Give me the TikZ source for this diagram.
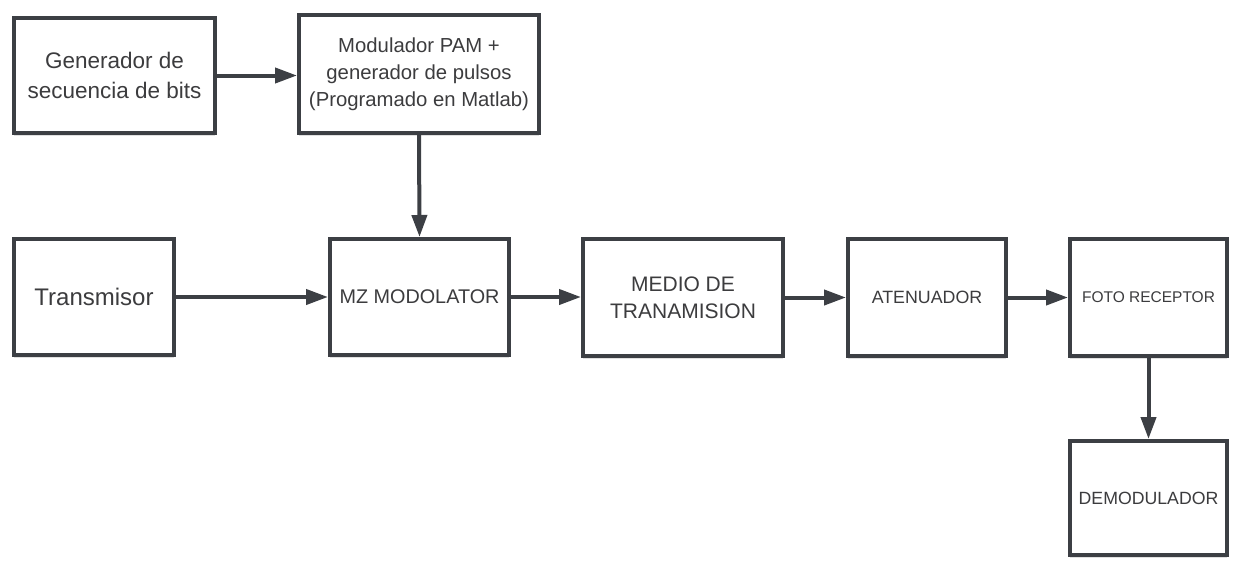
\documentclass[tikz,border=0pt]{standalone}
\usepackage{fontspec}
\setmainfont{Liberation Sans}
\usepackage{xcolor}
\definecolor{boxgray}{RGB}{60,63,68}
\definecolor{textgray}{RGB}{60,60,62}
\usetikzlibrary{arrows.meta,shadows}

\begin{document}
\begin{tikzpicture}[
  x=1pt, y=-1pt,
  blk/.style={rectangle, draw=boxgray, line width=4pt, fill=white, align=center,
              text=textgray, inner sep=2pt,
              drop shadow={shadow xshift=0pt, shadow yshift=-3pt, opacity=0.12, fill=black}},
  arr/.style={-{Triangle[length=22pt, width=15pt]}, line width=4pt, color=boxgray}
]
\useasboundingbox (0,0) rectangle (1233,560);

%% Top row
\node[blk, minimum width=201pt, minimum height=115pt,
      font=\fontsize{22.5}{30}\selectfont] (gen) at (114.5,75.5)
      {Generador de\\secuencia de bits};
\node[blk, minimum width=240pt, minimum height=118pt,
      font=\fontsize{20.3}{27}\selectfont] (pam) at (419,74)
      {Modulador PAM +\\generador de pulsos\\(Programado en Matlab)};

%% Main chain
\node[blk, minimum width=160pt, minimum height=116pt,
      font=\fontsize{24}{28}\selectfont] (tx) at (94,297) {Transmisor};
\node[blk, minimum width=179pt, minimum height=116pt,
      font=\fontsize{19.8}{24}\selectfont] (mz) at (419.5,297) {MZ MODOLATOR};
\node[blk, minimum width=200pt, minimum height=117pt,
      font=\fontsize{21}{27}\selectfont] (medio) at (683,297.5) {MEDIO DE\\TRANAMISION};
\node[blk, minimum width=158pt, minimum height=117pt,
      font=\fontsize{17.8}{22}\selectfont] (aten) at (927,297.5) {ATENUADOR};
\node[blk, minimum width=157pt, minimum height=117pt,
      font=\fontsize{15.5}{20}\selectfont] (foto) at (1148.5,297.5) {FOTO RECEPTOR};

%% Receiver output
\node[blk, minimum width=157pt, minimum height=114pt,
      font=\fontsize{17.7}{22}\selectfont] (demod) at (1148.5,498) {DEMODULADOR};

%% arrows
\draw[arr] (gen.east) -- (gen.east -| pam.west);
\draw[arr] (pam.south) -- (mz.north);
\draw[arr] (tx.east) -- (tx.east -| mz.west);
\draw[arr] (mz.east) -- (mz.east -| medio.west);
\draw[arr] (medio.east) -- (medio.east -| aten.west);
\draw[arr] (aten.east) -- (aten.east -| foto.west);
\draw[arr] (foto.south) -- (demod.north);

\end{tikzpicture}
\end{document}
